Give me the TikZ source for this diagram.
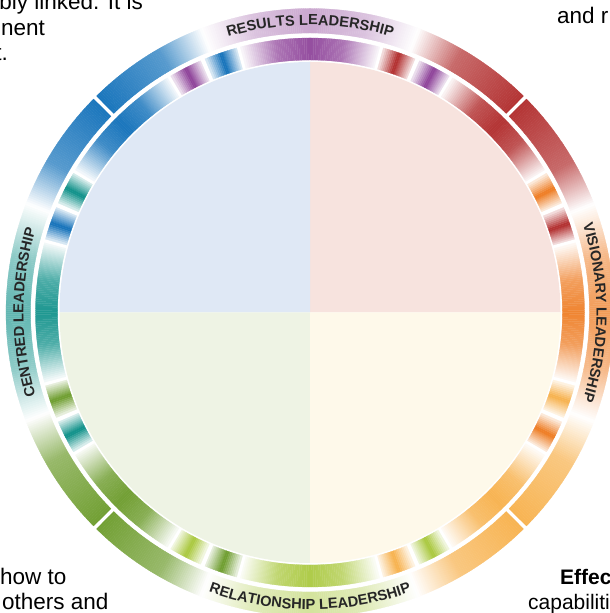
\documentclass[tikz,border=0pt]{standalone}
\usepackage{fontspec}
\setmainfont{Liberation Sans}
\usetikzlibrary{decorations.text}
\definecolor{cPur}{HTML}{8B3E97}
\definecolor{cBlu}{HTML}{0F6FB9}
\definecolor{cTea}{HTML}{0A8E87}
\definecolor{cGrn}{HTML}{6B9B2A}
\definecolor{cYgr}{HTML}{A8C73A}
\definecolor{cLor}{HTML}{F7B04A}
\definecolor{cOra}{HTML}{EE7A1F}
\definecolor{cRed}{HTML}{B02A2A}
\definecolor{qTL}{HTML}{DFE8F5}
\definecolor{qTR}{HTML}{F7E3DE}
\definecolor{qBL}{HTML}{EEF3E4}
\definecolor{qBR}{HTML}{FEF9EA}
\definecolor{lbl}{HTML}{262626}
\newcommand\lblfont{\fontsize{14.6}{14.6}\selectfont\bfseries}
% gradient annular sector between two angles, radii in \rIn and \rOut
\newcommand{\gradarc}[4]{%
  \colorlet{gcA}{#3}\colorlet{gcB}{#4}%
  \pgfmathsetmacro\gaS{#1}\pgfmathsetmacro\gaE{#2}%
  \pgfmathtruncatemacro\gN{max(2,round(abs(\gaE-\gaS)*2.5))}%
  \foreach \k in {1,...,\gN}{%
    \pgfmathsetmacro\ga{\gaS+(\gaE-\gaS)*(\k-1)/\gN}%
    \pgfmathsetmacro\gb{\gaS+(\gaE-\gaS)*\k/\gN}%
    \pgfmathsetmacro\gp{100*(\k-0.5)/\gN}%
    \fill[gcB!\gp!gcA, draw=gcB!\gp!gcA, line width=0.25pt]
      (\ga:\rIn) arc[start angle=\ga, end angle=\gb, radius=\rIn]
      -- (\gb:\rOut) arc[start angle=\gb, end angle=\ga, radius=\rOut] -- cycle;
  }%
}
\newcommand{\blockarc}[2]{%
  \pgfmathsetmacro\bm{#1}%
  \gradarc{\bm-3.5}{\bm}{#2!12}{#2!100}%
  \gradarc{\bm}{\bm+3.5}{#2!100}{#2!12}%
}
\begin{document}
\begin{tikzpicture}[x=1pt,y=1pt,
  lefttext/.style={font=\fontsize{22.5}{26}\selectfont, inner sep=0pt, text=black},
  righttext/.style={font=\fontsize{21}{25}\selectfont, inner sep=0pt, text=black}]
\path[use as bounding box] (0,0) rectangle (610,613);
\clip (0,0) rectangle (610,613);
\fill[white] (0,0) rectangle (610,613);
\begin{scope}[shift={(310,300.5)}]
  \coordinate (ctr) at (0,0);
  % quadrants
  \fill[qTR] (ctr) -- (0:250.5pt) arc[start angle=0, end angle=90, radius=250.5pt] -- cycle;
  \fill[qTL] (ctr) -- (90:250.5pt) arc[start angle=90, end angle=180, radius=250.5pt] -- cycle;
  \fill[qBL] (ctr) -- (180:250.5pt) arc[start angle=180, end angle=270, radius=250.5pt] -- cycle;
  \fill[qBR] (ctr) -- (270:250.5pt) arc[start angle=270, end angle=360, radius=250.5pt] -- cycle;
  % inner ring
  \def\rIn{252.5pt}\def\rOut{274.5pt}
  \foreach \d/\Ca/\D/\Cb in {45/cOra/cRed/cPur,135/cPur/cBlu/cTea,225/cTea/cGrn/cYgr,315/cYgr/cLor/cOra}{
    \gradarc{\d-45}{\d-38}{\Ca!92}{\Ca!72}
    \gradarc{\d-38}{\d-30.3}{\Ca!72}{\Ca!4}
    \blockarc{\d-26}{\D}
    \blockarc{\d-18}{\Ca}
    \gradarc{\d-13.7}{\d-6}{\D!4}{\D!80}
    \gradarc{\d-6}{\d}{\D!80}{\D!95}
    \gradarc{\d}{\d+6}{\D!95}{\D!80}
    \gradarc{\d+6}{\d+13.7}{\D!80}{\D!4}
    \blockarc{\d+18}{\Cb}
    \blockarc{\d+26}{\D}
    \gradarc{\d+30.3}{\d+38}{\Cb!4}{\Cb!72}
    \gradarc{\d+38}{\d+45}{\Cb!72}{\Cb!92}
  }
  % outer ring
  \def\rIn{279.5pt}\def\rOut{304pt}
  \foreach \c/\Da/\C/\Db/\pk in {0/cLor/cOra/cRed/75,90/cRed/cPur/cBlu/45,180/cBlu/cTea/cGrn/65,270/cGrn/cYgr/cLor/50}{
    \pgfmathsetmacro\pkb{\pk*0.7}
    \gradarc{\c-44.6}{\c-30}{\Da!95}{\Da!70}
    \gradarc{\c-30}{\c-21}{\Da!70}{\Da!0}
    \gradarc{\c-21}{\c-11}{\C!0}{\C!\pkb}
    \gradarc{\c-11}{\c}{\C!\pkb}{\C!\pk}
    \gradarc{\c}{\c+11}{\C!\pk}{\C!\pkb}
    \gradarc{\c+11}{\c+21}{\C!\pkb}{\C!0}
    \gradarc{\c+21}{\c+30}{\Db!0}{\Db!70}
    \gradarc{\c+30}{\c+44.6}{\Db!70}{\Db!95}
  }
  % ring labels
  \path[decorate, decoration={text along path, text align=center, text color=lbl,
      text={|\lblfont|RESULTS LEADERSHIP}}]
    (130:287.5pt) arc[start angle=130, end angle=50, radius=287.5pt];
  \path[decorate, decoration={text along path, text align=center, text color=lbl,
      text={|\lblfont|CENTRED LEADERSHIP}}]
    (225:286.5pt) arc[start angle=225, end angle=135, radius=286.5pt];
  \path[decorate, decoration={text along path, text align=center, text color=lbl,
      text={|\lblfont|VISIONARY LEADERSHIP}}]
    (45:286.5pt) arc[start angle=45, end angle=-45, radius=286.5pt];
  \path[decorate, decoration={text along path, text align=center, text color=lbl,
      text={|\lblfont|RELATIONSHIP LEADERSHIP}}]
    (225:297pt) arc[start angle=225, end angle=315, radius=297pt];
\end{scope}
% fragments of surrounding page text
\node[lefttext, anchor=base east] (tl1) at (143,603) {bly linked. It is};
\node[lefttext, anchor=base east] (tl2) at (45,577.5) {nent};
\node[lefttext, anchor=base east] (tl3) at (8,552) {t.};
\node[lefttext, anchor=base west] (tr1) at (557,589) {and r};
\node[lefttext, anchor=base west] (bl1) at (0,28) {how to};
\node[lefttext, anchor=base west] (bl2) at (2,3) {others and};
\node[righttext, anchor=base west, font=\fontsize{21}{25}\selectfont\bfseries] (br1) at (560,28) {Effec};
\node[righttext, anchor=base west] (br2) at (528,3) {capabiliti};
\end{tikzpicture}
\end{document}
